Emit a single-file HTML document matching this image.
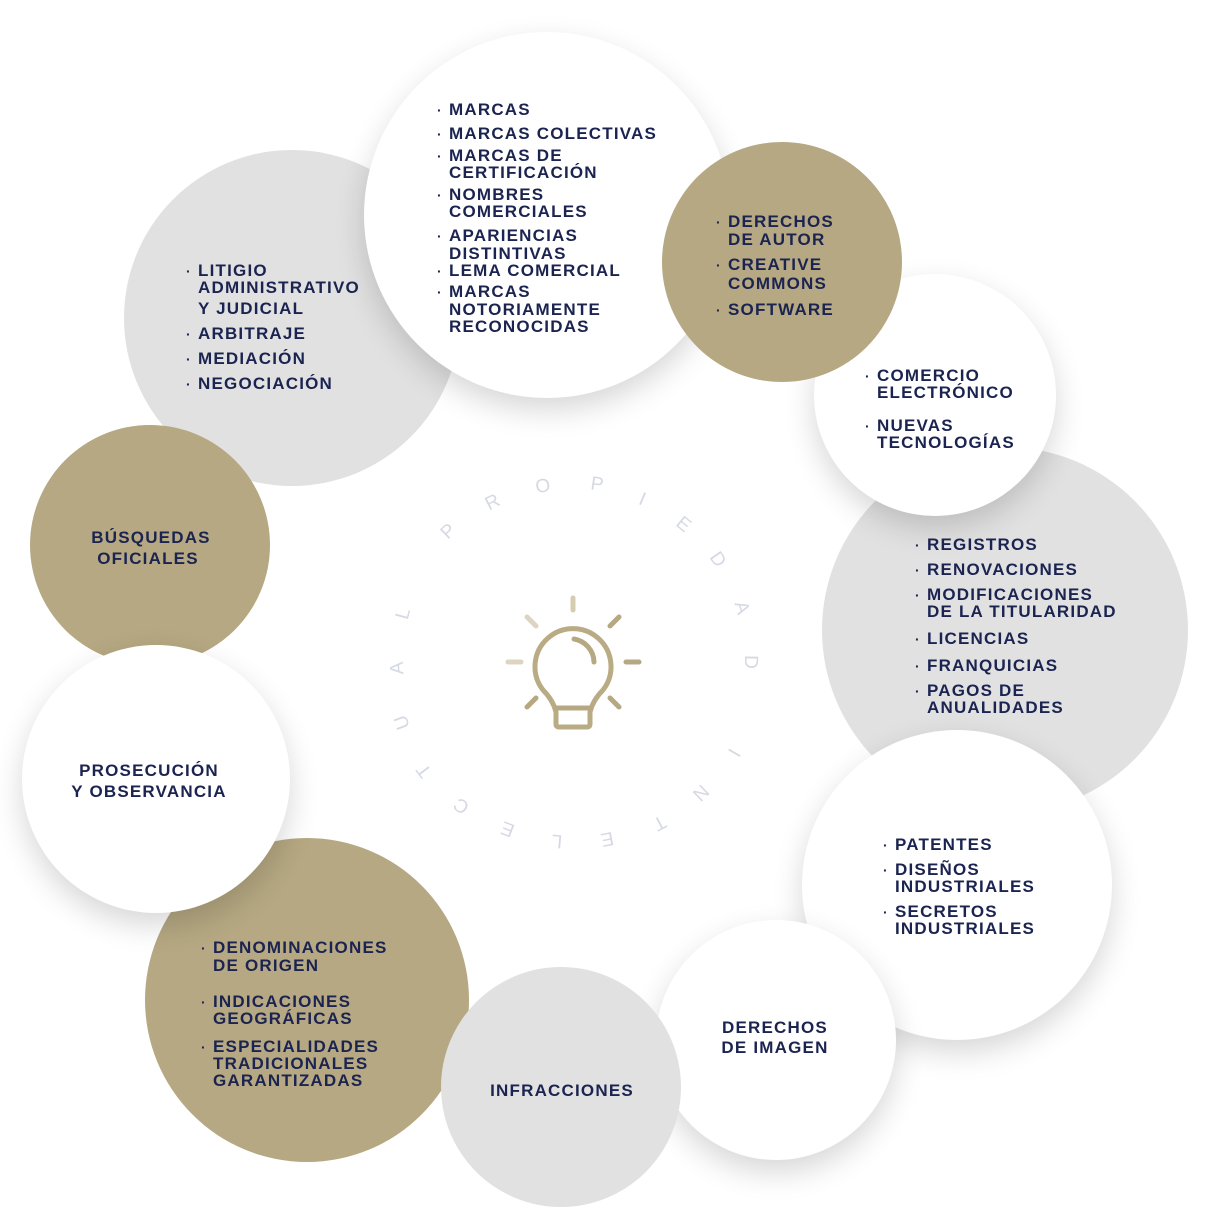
<!DOCTYPE html>
<html><head><meta charset="utf-8"><style>
html,body{margin:0;padding:0;background:#fff;}
#c{position:relative;width:1211px;height:1228px;overflow:hidden;background:#fff;}
.ci{position:absolute;border-radius:50%;}
.g{background:#e1e1e1;}
.au{background:#b5a882;}
.w{background:#fff;box-shadow:0 12px 30px rgba(0,0,0,0.16);}
.t{position:absolute;font-family:"Liberation Sans",sans-serif;font-weight:bold;font-size:17px;letter-spacing:1.2px;color:#1b2350;line-height:20px;white-space:nowrap;margin-top:1px;}
.d{position:absolute;font-family:"Liberation Sans",sans-serif;font-weight:bold;font-size:14px;color:#1b2350;line-height:20px;margin-top:1px;}
.cc{transform:translateX(-50%);text-align:center;}
</style></head><body><div id="c">
<div class="ci g" style="left:124px;top:150px;width:336px;height:336px"></div>
<div class="ci w" style="left:364px;top:32px;width:366px;height:366px"></div>
<div class="ci g" style="left:822px;top:447px;width:366px;height:366px"></div>
<div class="ci w" style="left:814px;top:274px;width:242px;height:242px"></div>
<div class="ci au" style="left:662px;top:142px;width:240px;height:240px"></div>
<div class="ci w" style="left:802px;top:730px;width:310px;height:310px"></div>
<div class="ci w" style="left:656px;top:920px;width:240px;height:240px"></div>
<div class="ci au" style="left:145px;top:838px;width:324px;height:324px"></div>
<div class="ci g" style="left:441px;top:967px;width:240px;height:240px"></div>
<div class="ci au" style="left:30px;top:425px;width:240px;height:240px"></div>
<div class="ci w" style="left:22px;top:645px;width:268px;height:268px"></div>

<svg style="position:absolute;left:0;top:0" width="1211" height="1228">
<g font-family="Liberation Sans,sans-serif" font-size="19" fill="#d6d8e4" text-anchor="middle" dominant-baseline="middle">
<text transform="translate(449,532) rotate(-44)">P</text>
<text transform="translate(493,503) rotate(-27)">R</text>
<text transform="translate(543,487) rotate(-10)">O</text>
<text transform="translate(597,485) rotate(8)">P</text>
<text transform="translate(642,500) rotate(23)">I</text>
<text transform="translate(683,525) rotate(39)">E</text>
<text transform="translate(717,560) rotate(55)">D</text>
<text transform="translate(741,608) rotate(73)">A</text>
<text transform="translate(750,662) rotate(91)">D</text>
<text transform="translate(733,752) rotate(120)">I</text>
<text transform="translate(700,792) rotate(136)">N</text>
<text transform="translate(659,822) rotate(152)">T</text>
<text transform="translate(607,838) rotate(169)">E</text>
<text transform="translate(557,840) rotate(185)">L</text>
<text transform="translate(508,828) rotate(201)">E</text>
<text transform="translate(462,805) rotate(217)">C</text>
<text transform="translate(425,770) rotate(233)">T</text>
<text transform="translate(403,722) rotate(250)">U</text>
<text transform="translate(398,668) rotate(267)">A</text>
<text transform="translate(404,614) rotate(285)">L</text>
</g>
<g stroke="#b5a882" stroke-width="5" stroke-linecap="round" fill="none">
<line x1="573" y1="598" x2="573" y2="610" stroke="#d6ccb2"/>
<line x1="527" y1="617" x2="536" y2="626" stroke="#ddd5c0"/>
<line x1="619" y1="617" x2="610" y2="626"/>
<line x1="508" y1="662" x2="521" y2="662" stroke="#ddd5c0"/>
<line x1="626" y1="662" x2="639" y2="662"/>
<line x1="527" y1="707" x2="536" y2="698"/>
<line x1="619" y1="707" x2="610" y2="698"/>
<path d="M556 724 L556 712 Q553 700 543 690 A38 38 0 1 1 603 690 Q593 700 590 712 L590 724 Q590 727 587 727 L559 727 Q556 727 556 724 Z" stroke="#b9ab84"/>
<line x1="557" y1="708" x2="589" y2="708"/>
<path d="M574 639 A24 24 0 0 1 594 662"/>
</g>
</svg>

<div class="d" style="left:186px;top:260px">·</div><div class="t" style="left:198px;top:260px">LITIGIO</div>
<div class="t" style="left:198px;top:277px">ADMINISTRATIVO</div>
<div class="t" style="left:198px;top:298px">Y JUDICIAL</div>
<div class="d" style="left:186px;top:323px">·</div><div class="t" style="left:198px;top:323px">ARBITRAJE</div>
<div class="d" style="left:186px;top:348px">·</div><div class="t" style="left:198px;top:348px">MEDIACIÓN</div>
<div class="d" style="left:186px;top:373px">·</div><div class="t" style="left:198px;top:373px">NEGOCIACIÓN</div>

<div class="d" style="left:437px;top:99px">·</div><div class="t" style="left:449px;top:99px">MARCAS</div>
<div class="d" style="left:437px;top:123px">·</div><div class="t" style="left:449px;top:123px">MARCAS COLECTIVAS</div>
<div class="d" style="left:437px;top:145px">·</div><div class="t" style="left:449px;top:145px">MARCAS DE</div>
<div class="t" style="left:449px;top:162px">CERTIFICACIÓN</div>
<div class="d" style="left:437px;top:184px">·</div><div class="t" style="left:449px;top:184px">NOMBRES</div>
<div class="t" style="left:449px;top:201px">COMERCIALES</div>
<div class="d" style="left:437px;top:225px">·</div><div class="t" style="left:449px;top:225px">APARIENCIAS</div>
<div class="t" style="left:449px;top:243px">DISTINTIVAS</div>
<div class="d" style="left:437px;top:260px">·</div><div class="t" style="left:449px;top:260px">LEMA COMERCIAL</div>
<div class="d" style="left:437px;top:281px">·</div><div class="t" style="left:449px;top:281px">MARCAS</div>
<div class="t" style="left:449px;top:299px">NOTORIAMENTE</div>
<div class="t" style="left:449px;top:316px">RECONOCIDAS</div>

<div class="d" style="left:716px;top:211px">·</div><div class="t" style="left:728px;top:211px">DERECHOS</div>
<div class="t" style="left:728px;top:229px">DE AUTOR</div>
<div class="d" style="left:716px;top:254px">·</div><div class="t" style="left:728px;top:254px">CREATIVE</div>
<div class="t" style="left:728px;top:273px">COMMONS</div>
<div class="d" style="left:716px;top:299px">·</div><div class="t" style="left:728px;top:299px">SOFTWARE</div>

<div class="d" style="left:865px;top:365px">·</div><div class="t" style="left:877px;top:365px">COMERCIO</div>
<div class="t" style="left:877px;top:382px">ELECTRÓNICO</div>
<div class="d" style="left:865px;top:415px">·</div><div class="t" style="left:877px;top:415px">NUEVAS</div>
<div class="t" style="left:877px;top:432px">TECNOLOGÍAS</div>

<div class="d" style="left:915px;top:534px">·</div><div class="t" style="left:927px;top:534px">REGISTROS</div>
<div class="d" style="left:915px;top:559px">·</div><div class="t" style="left:927px;top:559px">RENOVACIONES</div>
<div class="d" style="left:915px;top:584px">·</div><div class="t" style="left:927px;top:584px">MODIFICACIONES</div>
<div class="t" style="left:927px;top:601px">DE LA TITULARIDAD</div>
<div class="d" style="left:915px;top:628px">·</div><div class="t" style="left:927px;top:628px">LICENCIAS</div>
<div class="d" style="left:915px;top:655px">·</div><div class="t" style="left:927px;top:655px">FRANQUICIAS</div>
<div class="d" style="left:915px;top:680px">·</div><div class="t" style="left:927px;top:680px">PAGOS DE</div>
<div class="t" style="left:927px;top:697px">ANUALIDADES</div>

<div class="d" style="left:883px;top:834px">·</div><div class="t" style="left:895px;top:834px">PATENTES</div>
<div class="d" style="left:883px;top:859px">·</div><div class="t" style="left:895px;top:859px">DISEÑOS</div>
<div class="t" style="left:895px;top:876px">INDUSTRIALES</div>
<div class="d" style="left:883px;top:901px">·</div><div class="t" style="left:895px;top:901px">SECRETOS</div>
<div class="t" style="left:895px;top:918px">INDUSTRIALES</div>

<div class="t cc" style="left:775px;top:1017px">DERECHOS</div>
<div class="t cc" style="left:775px;top:1037px">DE IMAGEN</div>

<div class="t cc" style="left:562px;top:1080px">INFRACCIONES</div>

<div class="d" style="left:201px;top:937px">·</div><div class="t" style="left:213px;top:937px">DENOMINACIONES</div>
<div class="t" style="left:213px;top:955px">DE ORIGEN</div>
<div class="d" style="left:201px;top:991px">·</div><div class="t" style="left:213px;top:991px">INDICACIONES</div>
<div class="t" style="left:213px;top:1008px">GEOGRÁFICAS</div>
<div class="d" style="left:201px;top:1036px">·</div><div class="t" style="left:213px;top:1036px">ESPECIALIDADES</div>
<div class="t" style="left:213px;top:1053px">TRADICIONALES</div>
<div class="t" style="left:213px;top:1070px">GARANTIZADAS</div>

<div class="t cc" style="left:149px;top:760px">PROSECUCIÓN</div>
<div class="t cc" style="left:149px;top:781px">Y OBSERVANCIA</div>

<div class="t cc" style="left:151px;top:527px">BÚSQUEDAS</div>
<div class="t cc" style="left:148px;top:548px">OFICIALES</div>
</div></body></html>
